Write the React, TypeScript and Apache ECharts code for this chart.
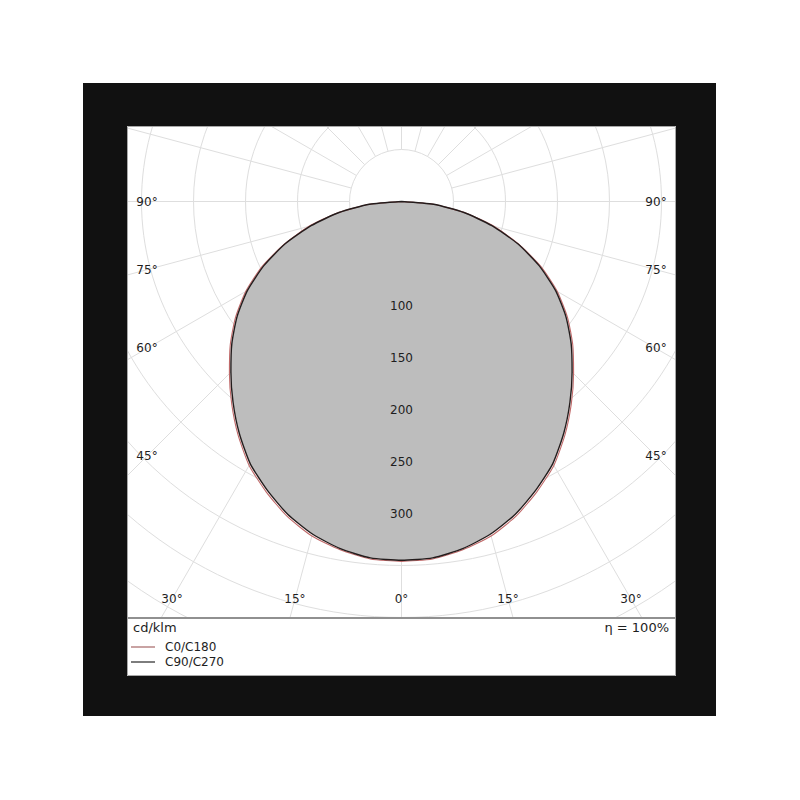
import React, { useEffect, useRef } from "react";
import * as echarts from "echarts";

// ---- data (cd/klm) ----
const gammaDeg = [0, 5, 10, 15, 20, 25, 30, 35, 40, 45, 50, 55, 60, 65, 70, 75, 80, 85, 90];
const c0c180 = [346, 345, 340, 333, 322, 308, 293, 274, 254, 234, 215, 195, 173, 148, 120, 92, 62, 31, 0];
const c90c270 = [345, 344, 339, 331, 320, 306, 291, 272, 252, 232, 213, 193, 171, 146, 119, 90, 61, 31, 0];
const seriesNames = ["C0/C180", "C90/C270"];
const radiusLabelValues = [100, 150, 200, 250, 300];
const angleLabelValues = [0, 15, 30, 45, 60, 75, 90];
const unitText = "cd/klm";
const efficiencyText = "η = 100%";

// ---- layout constants ----
const W = 549;
const H = 550;
const CX = 274.5;
const CY = 75.5;
const PX_PER_UNIT = 1.04;
const R_GRID_MIN = 50;
const R_MAX = 500;
const PLOT_BOTTOM = 492;
const LABEL_INSET = 20;
const FONT = "DejaVu Sans";
const TEXT_COLOR = "#1e1e1e";

// right half = C0 (or C90) at -gamma, left half = C180 (or C270) at +gamma
function toPolar(values: number[]) {
  const right = gammaDeg.map((g, i) => [values[i], -g]).reverse();
  const left = gammaDeg.slice(1).map((g, i) => [values[i + 1], g]);
  return right.concat(left);
}

export default function App() {
  const ref = useRef<HTMLDivElement>(null);

  useEffect(() => {
    if (!ref.current) return;
    const chart = echarts.init(ref.current, null, { renderer: "svg" });
    const gridColor = "#dedede";
    const hidden = {
      axisLine: { show: false },
      axisTick: { show: false },
      axisLabel: { show: false },
    };
    chart.setOption({
      animation: false,
      textStyle: { fontFamily: FONT },
      polar: [
        // data polar (value 0 at the centre)
        { center: [CX, CY], radius: [0, R_MAX * PX_PER_UNIT] },
        // grid polar (grid starts at the 50 circle)
        { center: [CX, CY], radius: [R_GRID_MIN * PX_PER_UNIT, R_MAX * PX_PER_UNIT] },
      ],
      angleAxis: [
        {
          polarIndex: 0,
          type: "value",
          min: -180,
          max: 180,
          interval: 15,
          startAngle: 90,
          clockwise: true,
          ...hidden,
          splitLine: { show: false },
        },
        {
          polarIndex: 1,
          type: "value",
          min: -180,
          max: 180,
          interval: 15,
          startAngle: 90,
          clockwise: true,
          ...hidden,
          splitLine: { show: true, lineStyle: { color: gridColor, width: 1 } },
        },
      ],
      radiusAxis: [
        {
          polarIndex: 0,
          type: "value",
          min: 0,
          max: R_MAX,
          interval: 50,
          ...hidden,
          splitLine: { show: false },
        },
        {
          polarIndex: 1,
          type: "value",
          min: R_GRID_MIN,
          max: R_MAX,
          interval: 50,
          ...hidden,
          splitLine: { show: true, lineStyle: { color: gridColor, width: 1 } },
        },
      ],
      legend: {
        orient: "vertical",
        left: 4,
        top: 515,
        padding: 0,
        itemGap: 3,
        itemWidth: 24,
        itemHeight: 2,
        z: 60,
        textStyle: { fontSize: 12, color: TEXT_COLOR, fontFamily: FONT, padding: [0, 0, 0, 5] },
        data: [
          { name: seriesNames[0], icon: "rect", itemStyle: { color: "#c9a3a3", borderWidth: 0 } },
          { name: seriesNames[1], icon: "rect", itemStyle: { color: "#7d7d7d", borderWidth: 0 } },
        ],
      },
      series: [
        {
          type: "line",
          coordinateSystem: "polar",
          polarIndex: 0,
          data: toPolar(c90c270),
          symbol: "none",
          smooth: 0.2,
          silent: true,
          z: 1,
          lineStyle: { width: 0 },
          areaStyle: { color: "#bdbdbd", opacity: 1, origin: 0 },
        },
        {
          name: seriesNames[0],
          type: "line",
          coordinateSystem: "polar",
          polarIndex: 0,
          data: toPolar(c0c180),
          symbol: "none",
          smooth: 0.2,
          z: 3,
          lineStyle: { color: "#c06a6a", width: 1.1 },
          itemStyle: { color: "#c06a6a" },
        },
        {
          name: seriesNames[1],
          type: "line",
          coordinateSystem: "polar",
          polarIndex: 0,
          data: toPolar(c90c270),
          symbol: "none",
          smooth: 0.2,
          z: 4,
          lineStyle: { color: "#231c1c", width: 1.4 },
          itemStyle: { color: "#231c1c" },
        },
      ],
    });

    const toPx = (r: number, a: number) =>
      chart.convertToPixel({ polarIndex: 0 } as any, [r, a]) as number[];
    const center = toPx(0, 0);
    const labels: any[] = [];
    const left = LABEL_INSET;
    const right = W - LABEL_INSET;
    const bottom = PLOT_BOTTOM - LABEL_INSET + 1;
    angleLabelValues.forEach((a) => {
      const sides = a === 0 ? [1] : [-1, 1];
      sides.forEach((s) => {
        const p = toPx(100, s * a);
        const dx = p[0] - center[0];
        const dy = p[1] - center[1];
        const ts: number[] = [];
        if (dx < -1e-6) ts.push((left - center[0]) / dx);
        if (dx > 1e-6) ts.push((right - center[0]) / dx);
        if (dy > 1e-6) ts.push((bottom - center[1]) / dy);
        const t = Math.min(...ts);
        labels.push({
          type: "text",
          x: center[0] + t * dx,
          y: center[1] + t * dy,
          z: 10,
          style: {
            text: a + "°",
            fill: TEXT_COLOR,
            fontSize: 12,
            fontFamily: FONT,
            align: "center",
            verticalAlign: "middle",
          },
        });
      });
    });
    radiusLabelValues.forEach((v) => {
      const p = toPx(v, 0);
      labels.push({
        type: "text",
        x: p[0],
        y: p[1],
        z: 10,
        style: {
          text: String(v),
          fill: TEXT_COLOR,
          fontSize: 12,
          fontFamily: FONT,
          align: "center",
          verticalAlign: "middle",
        },
      });
    });

    chart.setOption({
      graphic: {
        elements: [
          {
            type: "rect",
            z: 50,
            shape: { x: 0, y: PLOT_BOTTOM, width: W, height: H - PLOT_BOTTOM },
            style: { fill: "#ffffff" },
          },
          {
            type: "line",
            z: 51,
            shape: { x1: 0, y1: PLOT_BOTTOM, x2: W, y2: PLOT_BOTTOM },
            style: { stroke: "#909090", lineWidth: 2 },
          },
          {
            type: "rect",
            z: 51,
            shape: { x: 0.5, y: 0.5, width: W - 1, height: H - 1 },
            style: { fill: "none", stroke: "#a8a8a8", lineWidth: 1 },
          },
          {
            type: "text",
            z: 52,
            x: 6,
            y: PLOT_BOTTOM + 9,
            style: {
              text: unitText,
              fill: TEXT_COLOR,
              fontSize: 13,
              fontFamily: FONT,
              align: "left",
              verticalAlign: "middle",
            },
          },
          {
            type: "text",
            z: 52,
            x: W - 7,
            y: PLOT_BOTTOM + 9,
            style: {
              text: efficiencyText,
              fill: TEXT_COLOR,
              fontSize: 13,
              fontFamily: FONT,
              align: "right",
              verticalAlign: "middle",
            },
          },
          ...labels,
        ],
      },
    });

    return () => chart.dispose();
  }, []);

  return (
    <div style={{ position: "absolute", left: 0, top: 0, width: 800, height: 800, background: "#ffffff" }}>
      <div style={{ position: "absolute", left: 83, top: 83, width: 633, height: 633, background: "#111111" }} />
      <div
        ref={ref}
        style={{ position: "absolute", left: 127, top: 126, width: W, height: H, background: "#ffffff", overflow: "hidden" }}
      />
    </div>
  );
}
